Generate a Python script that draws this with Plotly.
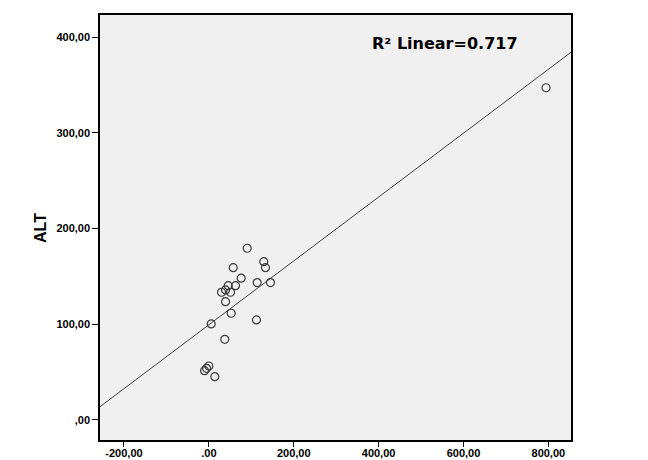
import numpy as np
import plotly.graph_objects as go

# data
x_vals = [90.4, 57.4, 129.4, 133.4, 76.2, 45.6, 62.8, 39.3, 29.9, 51.1, 113.9, 145.2,
          39.3, 52.7, 5.6, 112.2, 37.6, 0.0, -5.4, -10.1, 14.1, 794.6]
alt_vals = [179.4, 159.1, 165.4, 159.1, 148.1, 140.3, 140.3, 135.8, 133.4, 133.4, 143.5, 143.5,
            123.6, 111.5, 100.3, 104.5, 84.3, 56.4, 54.0, 51.5, 45.2, 347.0]
x_ticks = [-200, 0, 200, 400, 600, 800]
x_ticktext = ["-200,00", ".00", "200,00", "400,00", "600,00", "800,00"]
y_ticks = [0, 100, 200, 300, 400]
y_ticktext = [",00", "100,00", "200,00", "300,00", "400,00"]
r2_text = "R² Linear=0.717"

x_range = [-256.5, 853.4]
y_range = [-20.9, 423]

slope, intercept = np.polyfit(x_vals, alt_vals, 1)
fit_x = np.array(x_range)
fit_y = slope * fit_x + intercept

fig = go.Figure()
fig.add_trace(go.Scatter(x=fit_x, y=fit_y, mode="lines",
                         line=dict(color="#404040", width=1), hoverinfo="skip"))
fig.add_trace(go.Scatter(x=x_vals, y=alt_vals, mode="markers",
                         marker=dict(symbol="circle-open", size=8, color="#3a3a3a",
                                     line=dict(width=1.2, color="#3a3a3a"))))

W, H = 648, 460
L, R, T, B = 100, 77, 15, 20
pw, ph = W - L - R, H - T - B

fig.update_layout(
    width=W, height=H,
    margin=dict(l=L, r=R, t=T, b=B, pad=0),
    paper_bgcolor="white", plot_bgcolor="#F0F0F0",
    showlegend=False,
    font=dict(family="Arial, Liberation Sans, sans-serif", color="black"),
    xaxis=dict(range=x_range, tickvals=x_ticks,
               ticktext=["<b>" + t + "</b>" for t in x_ticktext], showgrid=False,
               zeroline=False, ticks="outside", ticklen=5, tickcolor="black",
               showline=True, linecolor="black", linewidth=1.5, mirror=True,
               automargin=False, tickfont=dict(size=11), ticklabelstandoff=-3),
    yaxis=dict(range=y_range, tickvals=y_ticks,
               ticktext=["<b>" + t + "</b>" for t in y_ticktext], showgrid=False,
               zeroline=False, ticks="outside", ticklen=6, tickcolor="black",
               showline=True, linecolor="black", linewidth=1.5, mirror=True,
               automargin=False, tickfont=dict(size=11)),
    annotations=[
        dict(text="<b>ALT</b>", x=(40 - L) / pw, y=(H - B - 228) / ph, xref="paper", yref="paper",
             xanchor="center", yanchor="middle",
             showarrow=False, textangle=-90, font=dict(size=16)),
        dict(text="<b>" + r2_text + "</b>", x=(370 - L) / pw, y=(H - B - 43) / ph,
             xref="paper", yref="paper",
             xanchor="left", yanchor="middle", showarrow=False,
             font=dict(size=16, family="DejaVu Sans, sans-serif")),
    ],
)
fig.write_html("out.html", config={"displayModeBar": False},
               post_script="document.body.style.margin='0';document.body.style.overflow='hidden';")
